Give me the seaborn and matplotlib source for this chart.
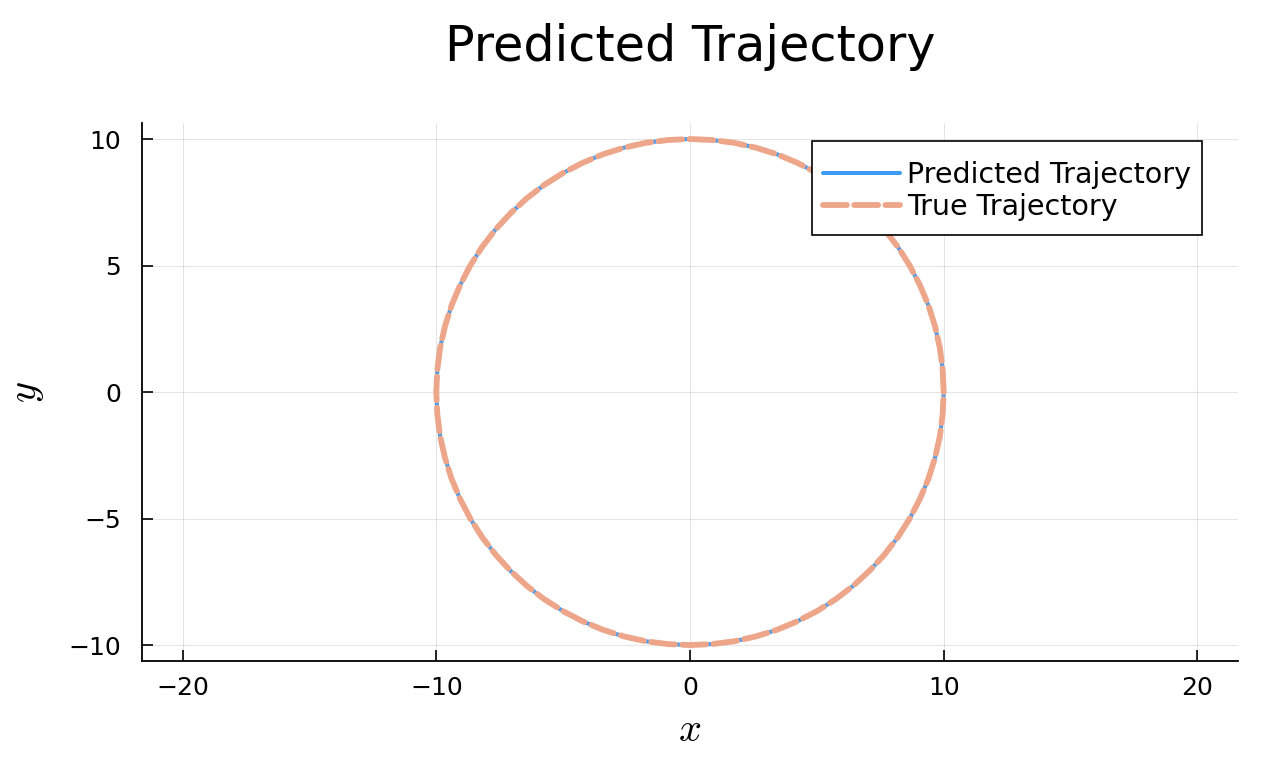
import matplotlib
matplotlib.use("Agg")
import matplotlib.pyplot as plt
from matplotlib.patches import Rectangle
import seaborn as sns
import pandas as pd

# Trajectory points (circle of radius 10), every 5 degrees
x_true = [10.00, 9.96, 9.85, 9.66, 9.40, 9.06, 8.66, 8.19, 7.66, 7.07, 6.43, 5.74,
          5.00, 4.23, 3.42, 2.59, 1.74, 0.87, 0.00,
          -0.87, -1.74, -2.59, -3.42, -4.23, -5.00, -5.74, -6.43, -7.07, -7.66,
          -8.19, -8.66, -9.06, -9.40, -9.66, -9.85, -9.96, -10.00,
          -9.96, -9.85, -9.66, -9.40, -9.06, -8.66, -8.19, -7.66, -7.07, -6.43,
          -5.74, -5.00, -4.23, -3.42, -2.59, -1.74, -0.87, 0.00,
          0.87, 1.74, 2.59, 3.42, 4.23, 5.00, 5.74, 6.43, 7.07, 7.66,
          8.19, 8.66, 9.06, 9.40, 9.66, 9.85, 9.96, 10.00]
y_true = [0.00, 0.87, 1.74, 2.59, 3.42, 4.23, 5.00, 5.74, 6.43, 7.07, 7.66, 8.19,
          8.66, 9.06, 9.40, 9.66, 9.85, 9.96, 10.00,
          9.96, 9.85, 9.66, 9.40, 9.06, 8.66, 8.19, 7.66, 7.07, 6.43,
          5.74, 5.00, 4.23, 3.42, 2.59, 1.74, 0.87, 0.00,
          -0.87, -1.74, -2.59, -3.42, -4.23, -5.00, -5.74, -6.43, -7.07, -7.66,
          -8.19, -8.66, -9.06, -9.40, -9.66, -9.85, -9.96, -10.00,
          -9.96, -9.85, -9.66, -9.40, -9.06, -8.66, -8.19, -7.66, -7.07, -6.43,
          -5.74, -5.00, -4.23, -3.42, -2.59, -1.74, -0.87, 0.00]
x_pred = list(x_true)
y_pred = list(y_true)

x_ticks = [-20, -10, 0, 10, 20]
y_ticks = [-10, -5, 0, 5, 10]
x_ticklabels = ["\u221220", "\u221210", "0", "10", "20"]
y_ticklabels = ["\u221210", "\u22125", "0", "5", "10"]

sns.set_theme(style="white")
plt.rcParams["font.family"] = ["DejaVu Sans"]
plt.rcParams["mathtext.fontset"] = "cm"
plt.rcParams["text.color"] = "black"
plt.rcParams["axes.labelcolor"] = "black"

fig = plt.figure(figsize=(12.7, 7.62), dpi=100)
ax = fig.add_axes([0.1118, 0.1325, 0.863, 0.706])

pred_df = pd.DataFrame({"x": x_pred, "y": y_pred})
true_df = pd.DataFrame({"x": x_true, "y": y_true})

sns.lineplot(data=pred_df, x="x", y="y", sort=False, estimator=None, ax=ax,
             color="#3d9bf5", lw=2.9, label="Predicted Trajectory",
             solid_capstyle="round", solid_joinstyle="round")
sns.lineplot(data=true_df, x="x", y="y", sort=False, estimator=None, ax=ax,
             color="#eea68a", lw=4.2, label="True Trajectory")
tl = ax.lines[-1]
tl.set_linestyle((0, (4.1, 1.25)))
tl.set_dash_capstyle("round")
tl.set_dash_joinstyle("round")

ax.set_xlim(-21.6, 21.6)
ax.set_ylim(-10.63, 10.63)
ax.set_xticks(x_ticks)
ax.set_yticks(y_ticks)
ax.set_xticklabels(x_ticklabels)
ax.set_yticklabels(y_ticklabels)
ax.tick_params(axis="both", direction="in", length=8, width=1.2,
               labelsize=18, colors="black", left=True, bottom=True)
ax.tick_params(axis="x", pad=11)
ax.tick_params(axis="y", pad=15)
ax.grid(True, color="black", alpha=0.1, lw=0.8)
for side in ["top", "right"]:
    ax.spines[side].set_visible(False)
for side in ["left", "bottom"]:
    ax.spines[side].set_color("black")
    ax.spines[side].set_linewidth(1.3)

ax.set_xlabel("$x$", fontsize=29, labelpad=7)
ax.set_ylabel("$y$", fontsize=29, labelpad=16)
ax.set_title("Predicted Trajectory", fontsize=35.5, pad=45, color="black")

# legend frame (white box with black border) behind the legend entries
frame = Rectangle((0.6113, 0.7918), 0.9672 - 0.6113, 0.9665 - 0.7918,
                  transform=ax.transAxes, facecolor="white", edgecolor="black",
                  lw=1.2, zorder=4, clip_on=False)
ax.add_patch(frame)

leg = ax.legend(loc="upper left", bbox_to_anchor=(0.6214, 0.9294),
                fontsize=20.5, frameon=False, handlelength=2.7,
                handletextpad=0.25, borderpad=0, labelspacing=0.15,
                borderaxespad=0)
leg.set_zorder(5)
for t in leg.get_texts():
    t.set_color("black")

fig.savefig("out.png", dpi=100)
